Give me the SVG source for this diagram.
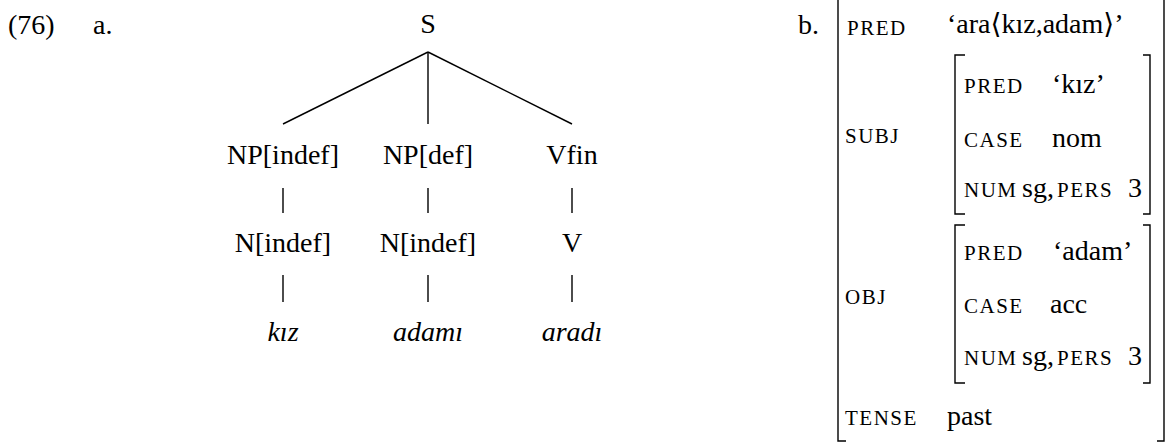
<svg xmlns="http://www.w3.org/2000/svg" width="1166" height="442" viewBox="0 0 1166 442">
<style>
text{font-family:'Liberation Serif','Times New Roman','DejaVu Serif','Noto Serif',Tinos,serif;font-size:28px;fill:#000}
.m{text-anchor:middle}
.i{font-style:italic}
.sc{font-size:21px;letter-spacing:1.5px}
.edge{stroke:#000;stroke-width:1.4;fill:none}
.br{stroke:#000;stroke-width:1.4;fill:none}
</style>
<rect width="1166" height="442" fill="#fff"/>
<g id="labels" font-family="Liberation Serif, DejaVu Serif, serif">
<text x="8" y="34">(76)</text>
<text x="93" y="34">a.</text>
<text x="798" y="34">b.</text>
</g>
<g id="connectors">
<line class="edge" x1="428" y1="52" x2="283" y2="124"/>
<line class="edge" x1="428" y1="52" x2="428" y2="124"/>
<line class="edge" x1="428" y1="52" x2="572" y2="124"/>
<line class="edge" x1="283" y1="188" x2="283" y2="213"/>
<line class="edge" x1="428" y1="188" x2="428" y2="213"/>
<line class="edge" x1="572" y1="188" x2="572" y2="213"/>
<line class="edge" x1="283" y1="275" x2="283" y2="302"/>
<line class="edge" x1="428" y1="275" x2="428" y2="302"/>
<line class="edge" x1="572" y1="275" x2="572" y2="302"/>
</g>
<g id="node-S"><text class="m" x="428" y="33">S</text></g>
<g id="node-NPindef"><text class="m" x="283" y="164">NP[indef]</text></g>
<g id="node-NPdef"><text class="m" x="428" y="164">NP[def]</text></g>
<g id="node-Vfin"><text class="m" x="572" y="164">Vfin</text></g>
<g id="node-Nindef1"><text class="m" x="283" y="252">N[indef]</text></g>
<g id="node-Nindef2"><text class="m" x="428" y="252">N[indef]</text></g>
<g id="node-V"><text class="m" x="572" y="252">V</text></g>
<g id="node-kiz"><text class="m i" x="283" y="341">kız</text></g>
<g id="node-adami"><text class="m i" x="428" y="341">adamı</text></g>
<g id="node-aradi"><text class="m i" x="572" y="341">aradı</text></g>
<g id="avm">
<path class="br" d="M846,441 H838 V-5"/>
<path class="br" d="M1157,441 H1164 V-5"/>
<text class="sc" x="847" y="35">PRED</text>
<text x="947" y="33">‘ara⟨kız,adam⟩’</text>
<text class="sc" x="845" y="143">SUBJ</text>
<path class="br" d="M965,55 H955 V214 H965"/>
<path class="br" d="M1143,55 H1150 V214 H1143"/>
<text class="sc" x="964" y="93">PRED</text>
<text x="1052" y="93">‘kız’</text>
<text class="sc" x="964" y="147">CASE</text>
<text x="1052" y="147">nom</text>
<text y="197"><tspan class="sc" x="964">NUM</tspan><tspan x="1022">sg,</tspan><tspan class="sc" x="1057">PERS</tspan><tspan x="1128">3</tspan></text>
<text class="sc" x="845" y="304">OBJ</text>
<path class="br" d="M965,225 H955 V383 H965"/>
<path class="br" d="M1143,225 H1150 V383 H1143"/>
<text class="sc" x="964" y="260">PRED</text>
<text x="1053" y="260">‘adam’</text>
<text class="sc" x="964" y="313">CASE</text>
<text x="1050" y="313">acc</text>
<text y="365"><tspan class="sc" x="964">NUM</tspan><tspan x="1022">sg,</tspan><tspan class="sc" x="1057">PERS</tspan><tspan x="1128">3</tspan></text>
<text class="sc" x="845" y="425">TENSE</text>
<text x="947" y="425">past</text>
</g>
</svg>
